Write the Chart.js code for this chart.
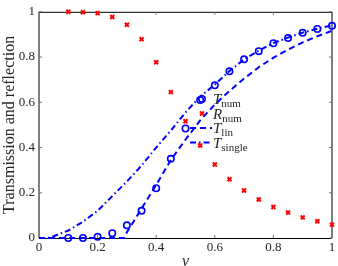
<!DOCTYPE html>
<html>
<head>
<meta charset="utf-8">
<script src="https://cdn.jsdelivr.net/npm/chart.js@4"></script>
<style>
  html, body { margin: 0; padding: 0; background: #fff; }
</style>
</head>
<body>
<canvas id="chart" width="338" height="266"></canvas>
<script>
// numerical results, sampled every 0.05 in v
var vNum = [0.1, 0.15, 0.2, 0.25, 0.3, 0.35, 0.4, 0.45, 0.5, 0.55, 0.6, 0.65, 0.7, 0.75, 0.8, 0.85, 0.9, 0.95, 1.0];
var tNum = [0, 0, 0.005, 0.021, 0.056, 0.12, 0.22, 0.35, 0.484, 0.61, 0.675, 0.737, 0.79, 0.826, 0.861, 0.884, 0.907, 0.924, 0.938];
var rNum = [1.0, 0.998, 0.994, 0.977, 0.943, 0.879, 0.777, 0.645, 0.516, 0.409, 0.325, 0.26, 0.21, 0.17, 0.137, 0.113, 0.091, 0.074, 0.059];

// linearised model
var vLin = [0, 0.29, 0.3, 0.35, 0.4, 0.45, 0.5, 0.55, 0.6, 0.65, 0.7, 0.75, 0.8, 0.85, 0.9, 0.95, 1.0];
var tLin = [0, 0, 0.025, 0.13, 0.235, 0.345, 0.435, 0.52, 0.59, 0.65, 0.705, 0.755, 0.797, 0.833, 0.865, 0.892, 0.916];

// single-barrier model
var vSingle = [0, 0.03, 0.05, 0.1, 0.15, 0.2, 0.25, 0.3, 0.35, 0.4, 0.45, 0.5, 0.55, 0.6, 0.65, 0.7, 0.75, 0.8, 0.85, 0.9, 0.95, 1.0];
var tSingle = [0, 0, 0.008, 0.033, 0.072, 0.12, 0.185, 0.25, 0.32, 0.40, 0.475, 0.555, 0.625, 0.678, 0.738, 0.79, 0.828, 0.862, 0.886, 0.908, 0.925, 0.94];

var legendMain = ['T', 'R', 'T', 'T'];
var legendSub  = ['num', 'num', 'lin', 'single'];
var tickVals   = [0, 0.2, 0.4, 0.6, 0.8, 1];

var SERIF = '"Liberation Serif", "Times New Roman", serif';
var TEXT = '#262626';

function pts(xs, ys) {
  return xs.map(function(x, i) { return { x: x, y: ys[i] }; });
}

// MATLAB style box with inward ticks on all four sides
var boxPlugin = {
  id: 'box',
  beforeDatasetsDraw: function(chart) {
    var ctx = chart.ctx, a = chart.chartArea;
    var xs = chart.scales.x, ys = chart.scales.y;
    ctx.save();
    ctx.strokeStyle = '#000';
    ctx.lineWidth = 1;
    ctx.beginPath();
    ctx.moveTo(a.left, a.top + 0.5); ctx.lineTo(a.right, a.top + 0.5);
    ctx.moveTo(a.left, a.bottom + 0.5); ctx.lineTo(a.right, a.bottom + 0.5);
    ctx.moveTo(a.left, a.top); ctx.lineTo(a.left, a.bottom);
    ctx.moveTo(a.right, a.top); ctx.lineTo(a.right, a.bottom);
    ctx.stroke();
    ctx.strokeStyle = '#777';
    ctx.beginPath();
    tickVals.forEach(function(t) {
      var px = xs.getPixelForValue(t), py = ys.getPixelForValue(t);
      ctx.moveTo(px, a.bottom); ctx.lineTo(px, a.bottom - 3);
      ctx.moveTo(px, a.top); ctx.lineTo(px, a.top + 3);
      ctx.moveTo(a.left, py); ctx.lineTo(a.left + 3, py);
      ctx.moveTo(a.right, py); ctx.lineTo(a.right - 3, py);
    });
    ctx.stroke();
    ctx.restore();
  }
};

// legend with subscripts, drawn inside the axes
var legendPlugin = {
  id: 'texLegend',
  afterDatasetsDraw: function(chart) {
    var ctx = chart.ctx;
    var x0 = 190, x1 = 212, y0 = 99, dy = 14.5;
    chart.data.datasets.forEach(function(ds, i) {
      var y = y0 + i * dy;
      ctx.save();
      ctx.strokeStyle = ds.borderColor;
      ctx.fillStyle = ds.backgroundColor;
      if (ds.showLine === false) {
        ctx.lineWidth = ds.pointBorderWidth;
        Chart.helpers.drawPoint(ctx, {
          pointStyle: ds.pointStyle, radius: ds.pointRadius,
          borderWidth: ds.pointBorderWidth, rotation: 0
        }, (x0 + x1) / 2 + 1, y);
      } else {
        ctx.lineWidth = ds.borderWidth;
        ctx.setLineDash(ds.borderDash || []);
        ctx.beginPath();
        ctx.moveTo(x0, y); ctx.lineTo(x1, y);
        ctx.stroke();
      }
      ctx.fillStyle = TEXT;
      ctx.textBaseline = 'alphabetic';
      ctx.font = 'italic 15px ' + SERIF;
      var tx = x1 + 1;
      ctx.fillText(legendMain[i], tx, y + 5);
      var w = ctx.measureText(legendMain[i]).width;
      ctx.font = '11px ' + SERIF;
      ctx.fillText(legendSub[i], tx + w, y + 8);
      ctx.restore();
    });
  }
};

new Chart(document.getElementById('chart'), {
  type: 'scatter',
  data: {
    datasets: [{
      label: 'T_num',
      data: pts(vNum, tNum),
      showLine: false,
      pointStyle: 'circle',
      pointRadius: 3.2,
      pointBorderWidth: 1.6,
      borderColor: '#0000ff',
      backgroundColor: 'rgba(0,0,0,0)',
      clip: false
    }, {
      label: 'R_num',
      data: pts(vNum, rNum),
      showLine: false,
      pointStyle: 'crossRot',
      pointRadius: 2.8,
      pointBorderWidth: 2,
      borderColor: '#ff0000',
      backgroundColor: '#ff0000',
      clip: false
    }, {
      label: 'T_lin',
      data: pts(vLin, tLin),
      showLine: true,
      pointRadius: 0,
      borderWidth: 2,
      borderDash: [6, 4],
      borderColor: '#0000ff',
      backgroundColor: '#0000ff',
      tension: 0,
      clip: false
    }, {
      label: 'T_single',
      data: pts(vSingle, tSingle),
      showLine: true,
      pointRadius: 0,
      borderWidth: 2,
      borderDash: [6, 3, 1.5, 3],
      borderColor: '#0000ff',
      backgroundColor: '#0000ff',
      tension: 0,
      clip: false
    }]
  },
  options: {
    responsive: false,
    animation: false,
    layout: { padding: { top: 5, right: 4, left: 0, bottom: 0 } },
    plugins: {
      legend: { display: false },
      tooltip: { enabled: false }
    },
    scales: {
      x: {
        type: 'linear',
        min: 0, max: 1,
        afterFit: function(s) { s.height = 28; },
        afterBuildTicks: function(s) { s.ticks = tickVals.map(function(v) { return { value: v }; }); },
        grid: { display: false, drawTicks: false },
        border: { display: false },
        ticks: {
          padding: 2,
          color: TEXT,
          font: { family: SERIF, size: 13 },
          callback: function(v) { return String(v); }
        },
        title: {
          display: true,
          text: 'v',
          color: TEXT,
          padding: { top: 0, bottom: -2 },
          font: { family: SERIF, size: 16, style: 'italic', lineHeight: 0.8 }
        }
      },
      y: {
        type: 'linear',
        min: 0, max: 1,
        afterFit: function(s) { s.width = 39; },
        afterBuildTicks: function(s) { s.ticks = tickVals.map(function(v) { return { value: v }; }); },
        grid: { display: false, drawTicks: false },
        border: { display: false },
        ticks: {
          padding: 4,
          color: TEXT,
          font: { family: SERIF, size: 13 },
          callback: function(v) { return String(v); }
        },
        title: {
          display: true,
          text: 'Transmission and reflection',
          color: TEXT,
          padding: { top: 0, bottom: 0 },
          font: { family: SERIF, size: 16 }
        }
      }
    }
  },
  plugins: [boxPlugin, legendPlugin]
});
</script>
</body>
</html>
